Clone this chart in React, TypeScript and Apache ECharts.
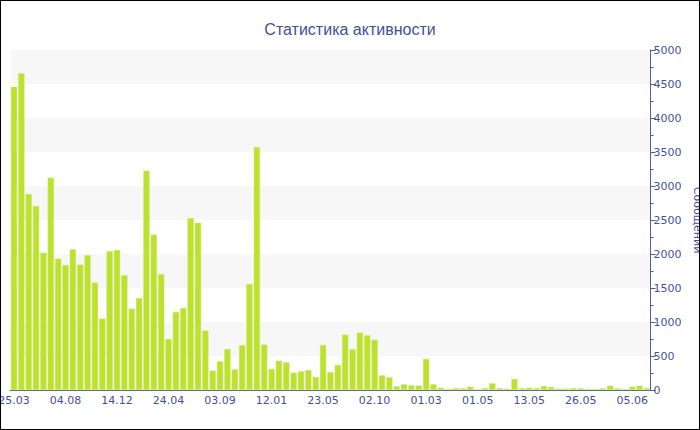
import React, { useEffect, useRef } from "react";
import * as echarts from "echarts";

const tickLabels = ["25.03", "04.08", "14.12", "24.04", "03.09", "12.01", "23.05", "02.10", "01.03", "01.05", "13.05", "26.05", "05.06"];

const messages = [
  4460, 4657, 2882, 2706, 2020, 3123, 1931, 1838, 2069, 1843,
  1980, 1578, 1049, 2039, 2059, 1686, 1196, 1353, 3226, 2284,
  1706, 750, 1147, 1206, 2529, 2461, 873, 284, 422, 603,
  304, 660, 1559, 3574, 667, 309, 431, 407, 255, 275,
  294, 191, 662, 265, 368, 814, 598, 843, 804, 740,
  216, 186, 54, 83, 69, 66, 458, 83, 34, 15,
  29, 25, 49, 8, 25, 98, 29, 20, 162, 25,
  34, 27, 59, 44, 20, 20, 29, 25, 15, 15,
  25, 64, 25, 15, 49, 64, 29,
];

const labelStep = 7;
const categories = messages.map((_, i) =>
  i % labelStep === 0 ? tickLabels[i / labelStep] : `#${i}`
);

const axisColor = "#4e5ea6";
const textColor = "#3f509c";
const font = "DejaVu Sans, Verdana, sans-serif";

export default function App() {
  const ref = useRef<HTMLDivElement>(null);
  useEffect(() => {
    document.body.style.margin = "0";
    const chart = echarts.init(ref.current!, null, { renderer: "svg" });
    chart.setOption({
      animation: false,
      backgroundColor: "#fff",
      title: {
        text: "Статистика активности",
        left: "center",
        top: 15,
        textStyle: { color: textColor, fontSize: 16, fontWeight: "normal", fontFamily: "Liberation Sans, Arial, sans-serif" },
      },
      grid: { left: 9.3, right: 48.4, top: 49, bottom: 39, containLabel: false, outerBoundsMode: "none" },
      xAxis: {
        type: "category",
        data: categories,
        boundaryGap: true,
        axisLine: { lineStyle: { color: axisColor } },
        axisTick: { alignWithLabel: true, interval: labelStep - 1, length: 4, lineStyle: { color: axisColor } },
        axisLabel: { interval: labelStep - 1, color: textColor, fontSize: 11, fontFamily: font, margin: 5, hideOverlap: false },
        splitLine: { show: false },
      },
      yAxis: {
        type: "value",
        position: "right",
        min: 0,
        max: 5000,
        interval: 500,
        name: "Сообщений",
        nameLocation: "middle",
        nameRotate: -90,
        nameGap: 38,
        nameTextStyle: { color: textColor, fontSize: 11, fontFamily: font },
        axisLine: { show: true, lineStyle: { color: axisColor } },
        axisTick: { show: true, length: 5, lineStyle: { color: axisColor } },
        minorTick: { show: true, splitNumber: 2, length: 3, lineStyle: { color: axisColor } },
        axisLabel: { color: textColor, fontSize: 11, fontFamily: font, margin: 3, formatter: (v: number) => String(v) },
        splitLine: { show: false },
        splitArea: { show: true, areaStyle: { color: ["#ffffff", "#f7f7f7"] } },
      },
      series: [
        {
          type: "bar",
          data: messages,
          barCategoryGap: "15%",
          itemStyle: { color: "#bce12f", borderColor: "#cdea6a", borderWidth: 0.5 },
        },
      ],
    });
    return () => chart.dispose();
  }, []);
  return (
    <div style={{ width: 700, height: 430, border: "1px solid #000", boxSizing: "border-box" }}>
      <div ref={ref} style={{ width: 698, height: 428 }} />
    </div>
  );
}
